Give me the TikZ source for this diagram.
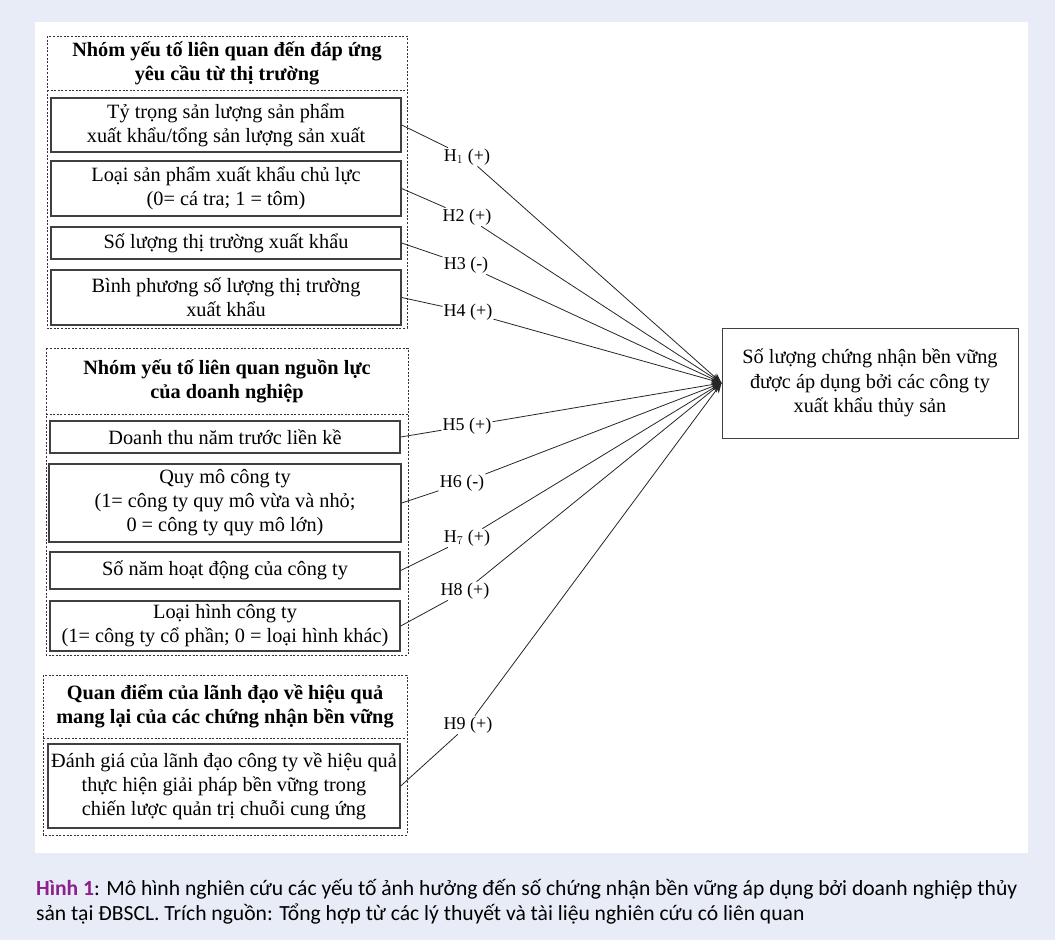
\documentclass[tikz,border=0pt]{standalone}
\usepackage{fontspec}
\setmainfont{Liberation Serif}
\newfontfamily\capfont{Carlito}
\usetikzlibrary{arrows.meta}
\definecolor{bgblue}{HTML}{E7ECF7}
\definecolor{capviolet}{HTML}{8E1F8E}
\definecolor{frame}{HTML}{333333}
\tikzset{
  ibox/.style={draw=black!75, line width=1.4pt, align=center, inner sep=1pt,
    font=\fontsize{20.3}{24}\selectfont},
  tbox/.style={draw=black!75, line width=1pt, align=center, inner sep=2pt,
    font=\fontsize{20.3}{24.5}\selectfont},
  head/.style={align=center, font=\fontsize{20.3}{24}\selectfont\bfseries},
  grp/.style={draw=frame, line width=0.9pt, dash pattern=on 2pt off 1.6pt},
  hlab/.style={fill=white, inner sep=1pt, font=\fontsize{18}{20}\selectfont},
  conn/.style={draw=black!85, line width=0.8pt},
  capt/.style={anchor=base west, inner sep=0pt, font=\capfont\fontsize{21.6}{25}\selectfont},
}
\begin{document}
\begin{tikzpicture}[x=1pt,y=-1pt]
\useasboundingbox (0,0) rectangle (1055,940);
\fill[bgblue] (0,0) rectangle (1055,940);
\fill[white] (35,22) rectangle (1028,853);

% group frames
\draw[grp] (47,36) rectangle (407,328);
\draw[grp] (47,90) -- (407,90);
\draw[grp] (46,348) rectangle (408,655);
\draw[grp] (46,414) -- (408,414);
\draw[grp] (43,675) rectangle (407,835);
\draw[grp] (43,738) -- (407,738);

% headings
\node[head] (g1) at (227,63) {Nhóm yếu tố liên quan đến đáp ứng\\yêu cầu từ thị trường};
\node[head] (g2) at (227,381) {Nhóm yếu tố liên quan nguồn lực\\của doanh nghiệp};
\node[head] (g3) at (225,706) {Quan điểm của lãnh đạo về hiệu quả\\mang lại của các chứng nhận bền vững};

% boxes
\node[ibox, minimum width=350pt, minimum height=54pt] (b1) at (226,125) {Tỷ trọng sản lượng sản phẩm\\xuất khẩu/tổng sản lượng sản xuất};
\node[ibox, minimum width=350pt, minimum height=55pt] (b2) at (226,188.5) {Loại sản phẩm xuất khẩu chủ lực\\(0= cá tra; 1 = tôm)};
\node[ibox, minimum width=350pt, minimum height=32pt] (b3) at (226,243) {Số lượng thị trường xuất khẩu};
\node[ibox, minimum width=350pt, minimum height=55pt] (b4) at (226,297.5) {Bình phương số lượng thị trường\\xuất khẩu};
\node[ibox, minimum width=350pt, minimum height=32pt] (b5) at (225,437) {Doanh thu năm trước liền kề};
\node[ibox, minimum width=352pt, minimum height=78pt] (b6) at (225,503) {Quy mô công ty\\(1= công ty quy mô vừa và nhỏ;\\0 = công ty quy mô lớn)};
\node[ibox, minimum width=350pt, minimum height=37pt] (b7) at (225,570.5) {Số năm hoạt động của công ty};
\node[ibox, minimum width=350pt, minimum height=50pt] (b8) at (225,626) {Loại hình công ty\\(1= công ty cổ phần; 0 = loại hình khác)};
\node[ibox, minimum width=352pt, minimum height=84pt] (b9) at (224,786) {Đánh giá của lãnh đạo công ty về hiệu quả\\thực hiện giải pháp bền vững trong\\chiến lược quản trị chuỗi cung ứng};

% target
\node[tbox, minimum width=296pt, minimum height=110pt] (t) at (870,383) {Số lượng chứng nhận bền vững\\được áp dụng bởi các công ty\\xuất khẩu thủy sản};

% labels
\node[hlab] (h1) at (467,157) {H$_1$ (+)};
\node[hlab] (h2) at (467,217) {H2 (+)};
\node[hlab] (h3) at (466,265) {H3 (-)};
\node[hlab] (h4) at (468,312) {H4 (+)};
\node[hlab] (h5) at (467,426) {H5 (+)};
\node[hlab] (h6) at (462,483) {H6 (-)};
\node[hlab] (h7) at (467,538) {H$_7$ (+)};
\node[hlab] (h8) at (465,591) {H8 (+)};
\node[hlab] (h9) at (468,725) {H9 (+)};

% connectors
\foreach \i in {1,...,9}{
  \draw[conn, -{Stealth[length=10pt,width=8pt]}] (b\i.east) -- (h\i) -- (t.west);
}

% caption
\node[capt] (c1) at (36,895) {\textcolor{capviolet}{\bfseries Hình 1}: Mô hình nghiên cứu các yếu tố ảnh hưởng đến số chứng nhận bền vững áp dụng bởi doanh nghiệp thủy};
\node[capt] (c2) at (36,920) {sản tại ĐBSCL. Trích nguồn: Tổng hợp từ các lý thuyết và tài liệu nghiên cứu có liên quan};
\end{tikzpicture}
\end{document}
